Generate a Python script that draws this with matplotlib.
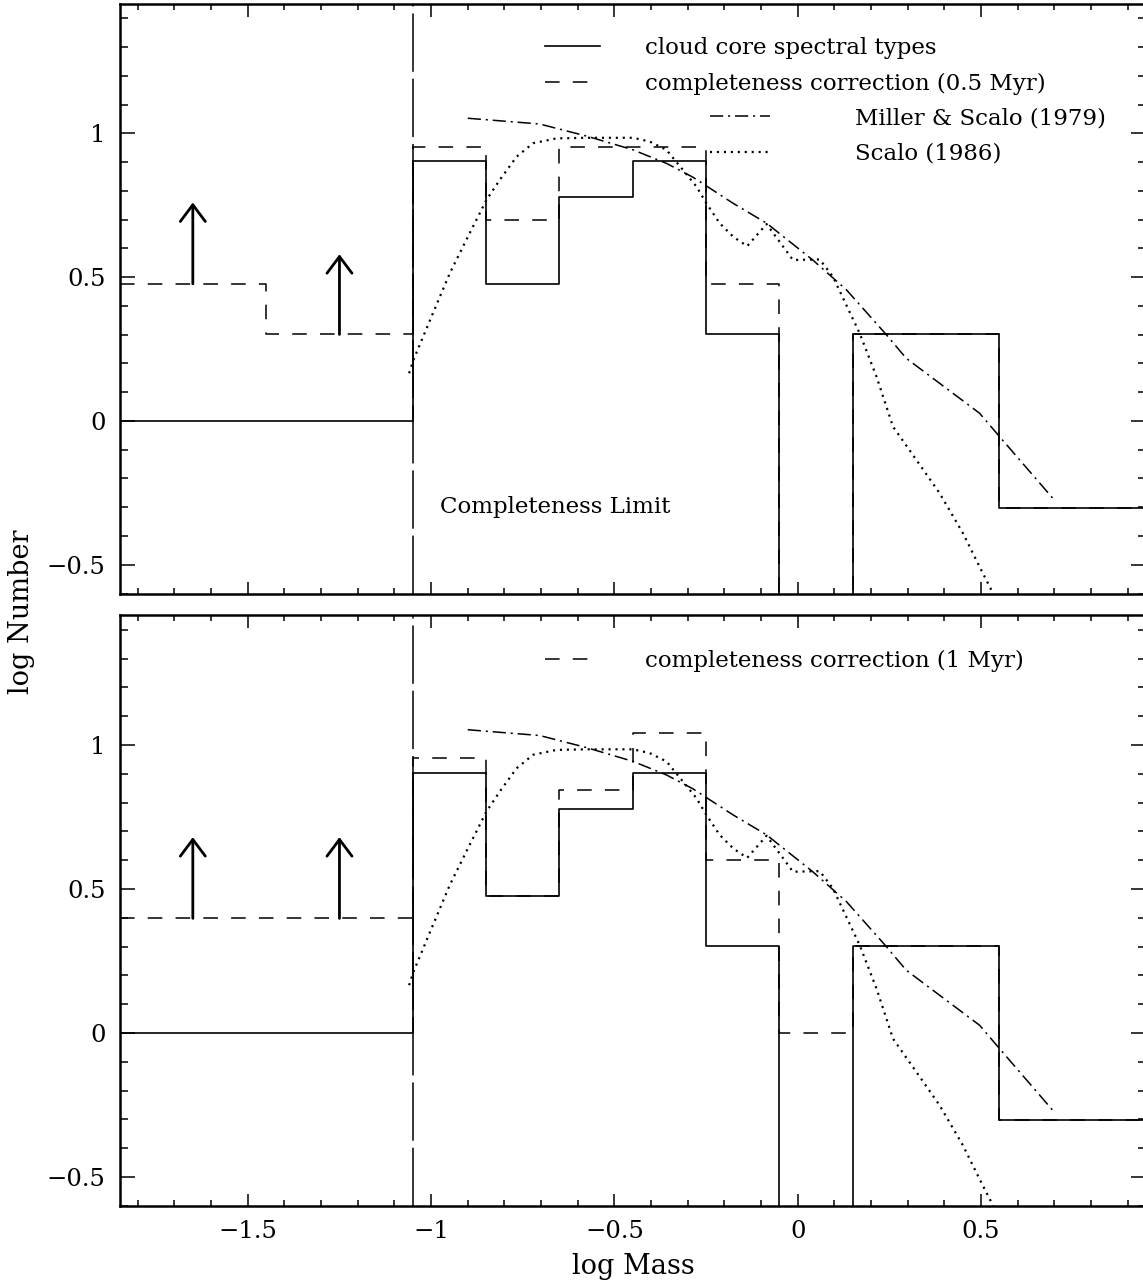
import numpy as np
import matplotlib
matplotlib.use('Agg')
import matplotlib.pyplot as plt
from matplotlib.ticker import MultipleLocator, FuncFormatter
from matplotlib.lines import Line2D

plt.rcParams['font.family'] = ['DejaVu Serif']
plt.rcParams['lines.scale_dashes'] = False

# ---------------- data ----------------
bin_edges = [-1.85, -1.05, -0.85, -0.65, -0.45, -0.25, -0.05, 0.15, 0.55, 0.95]
cloud_core = [0.0, 0.903, 0.477, 0.778, 0.903, 0.301, -np.inf, 0.301, -0.301]

corr_edges_05 = [-1.85, -1.45, -1.05, -0.85, -0.65, -0.45, -0.25, -0.05, 0.15, 0.55, 0.95]
corr_05 = [0.477, 0.301, 0.954, 0.699, 0.954, 0.954, 0.477, -np.inf, 0.301, -0.301]

corr_edges_1 = [-1.85, -1.05, -0.85, -0.65, -0.45, -0.25, -0.05, 0.15, 0.55, 0.95]
corr_1 = [0.398, 0.954, 0.477, 0.845, 1.041, 0.602, 0.0, 0.301, -0.301]

ms_logm = [-0.90, -0.704, -0.576, -0.449, -0.358, -0.286, -0.176, -0.085, 0.041,
           0.133, 0.237, 0.296, 0.496, 0.551, 0.696]
ms_logn = [1.053, 1.033, 0.991, 0.943, 0.896, 0.848, 0.757, 0.688, 0.560,
           0.456, 0.307, 0.218, 0.027, -0.055, -0.269]

scalo_logm = [-1.06, -1.049, -0.995, -0.949, -0.904, -0.849, -0.813, -0.767, -0.722,
              -0.658, -0.576, -0.449, -0.404, -0.358, -0.313, -0.276, -0.249, -0.213,
              -0.176, -0.138, -0.085, -0.013, 0.06, 0.096, 0.169, 0.215, 0.26, 0.324,
              0.387, 0.451, 0.496, 0.545]
scalo_logn = [0.166, 0.21, 0.375, 0.514, 0.63, 0.769, 0.838, 0.919, 0.966,
              0.983, 0.985, 0.985, 0.972, 0.943, 0.873, 0.815, 0.757, 0.688,
              0.641, 0.608, 0.685, 0.56, 0.562, 0.502, 0.305, 0.154, -0.02, -0.136,
              -0.251, -0.391, -0.507, -0.63]

arrow_x = [-1.65, -1.25]
arrow_base_05 = [0.477, 0.301]
arrow_tip_05 = [0.76, 0.58]
arrow_base_1 = [0.398, 0.398]
arrow_tip_1 = [0.68, 0.68]

completeness_limit = -1.05

# ---------------- styles ----------------
DASH = (0, (10.5, 9.5))
DASHDOT = (0, (9.5, 3.5, 1.5, 3.5))
DOT = (0, (1.5, 3.5))
LONGDASH = (0, (42, 5))
FLOOR = -5.0

W, H = 1143, 1284
fig = plt.figure(figsize=(W / 100, H / 100), dpi=100)

left_px, right_px = 119.5, 1146.0
axes_px = [(4.1, 593.5), (615.4, 1205.8)]  # (top, bottom) pixel rows


def tick_fmt(v, pos):
    if abs(v) < 1e-9:
        return '0'
    return f'{v:g}'.replace('-', '\u2212')


def stepline(ax, edges, vals, **kw):
    v = np.array(vals, dtype=float)
    v = np.where(np.isfinite(v), v, FLOOR)
    return ax.step(edges, np.append(v, v[-1]), where='post', **kw)


axes = []
for (top, bot) in axes_px:
    ax = fig.add_axes([left_px / W, 1 - bot / H, (right_px - left_px) / W, (bot - top) / H])
    ax.set_xlim(-1.85, 0.95)
    ax.set_ylim(-0.6, 1.45)
    ax.xaxis.set_major_locator(MultipleLocator(0.5))
    ax.xaxis.set_minor_locator(MultipleLocator(0.1))
    ax.yaxis.set_major_locator(MultipleLocator(0.5))
    ax.yaxis.set_minor_locator(MultipleLocator(0.1))
    ax.xaxis.set_major_formatter(FuncFormatter(tick_fmt))
    ax.yaxis.set_major_formatter(FuncFormatter(tick_fmt))
    ax.tick_params(which='both', direction='in', top=True, right=True, width=1.1,
                   labelsize=17.5, pad=10)
    ax.tick_params(axis='x', which='major', length=9)
    ax.tick_params(axis='x', which='minor', length=4)
    ax.tick_params(axis='y', which='major', length=11)
    ax.tick_params(axis='y', which='minor', length=6)
    for s in ax.spines.values():
        s.set_linewidth(1.8)
    axes.append(ax)

ax_top, ax_bot = axes
ax_top.tick_params(axis='x', labelbottom=False)

panels = [
    (ax_top, corr_edges_05, corr_05, arrow_base_05, arrow_tip_05),
    (ax_bot, corr_edges_1, corr_1, arrow_base_1, arrow_tip_1),
]

for ax, cedges, cvals, abase, atip in panels:
    ax.axvline(completeness_limit, color='black', lw=1.1, linestyle=LONGDASH)
    stepline(ax, cedges, cvals, color='black', lw=1.1, linestyle=DASH)
    stepline(ax, bin_edges, cloud_core, color='black', lw=1.2)
    ax.plot(ms_logm, ms_logn, color='black', lw=1.1, linestyle=DASHDOT)
    ax.plot(scalo_logm, scalo_logn, color='black', lw=1.6, linestyle=DOT)
    for x, b, t in zip(arrow_x, abase, atip):
        ax.annotate('', xy=(x, t), xytext=(x, b),
                    arrowprops=dict(arrowstyle='->,head_length=0.6,head_width=0.45',
                                    lw=2.0, color='black', mutation_scale=20,
                                    shrinkA=0, shrinkB=0))

h_solid = Line2D([], [], color='black', lw=1.2)
h_dash = Line2D([], [], color='black', lw=1.1, linestyle=DASH)
h_dd = Line2D([], [], color='black', lw=1.1, linestyle=DASHDOT)
h_dot = Line2D([], [], color='black', lw=1.6, linestyle=DOT)

LFS = 16.5
leg1 = ax_top.legend([h_solid, h_dash],
                     ['cloud core spectral types', 'completeness correction (0.5 Myr)'],
                     loc='upper left', bbox_to_anchor=(0.4145, 0.944), frameon=False,
                     fontsize=LFS, borderpad=0, borderaxespad=0, handlelength=2.4,
                     handletextpad=1.97, labelspacing=0.585)
ax_top.add_artist(leg1)
leg2 = ax_top.legend([h_dd, h_dot], ['Miller & Scalo (1979)', 'Scalo (1986)'],
                     loc='upper left', bbox_to_anchor=(0.575, 0.825), frameon=False,
                     fontsize=LFS, borderpad=0, borderaxespad=0, handlelength=2.62,
                     handletextpad=3.71, labelspacing=0.585)
ax_bot.legend([h_dash], ['completeness correction (1 Myr)'],
              loc='upper left', bbox_to_anchor=(0.4145, 0.941), frameon=False,
              fontsize=LFS, borderpad=0, borderaxespad=0, handlelength=2.4,
              handletextpad=1.97)

ax_top.text(0.312, 0.147, 'Completeness Limit', transform=ax_top.transAxes,
            ha='left', va='center', fontsize=16.5)

fig.text(22 / W, 1 - 612 / H, 'log Number', rotation=90, ha='center', va='center', fontsize=19.5)
fig.text(633 / W, 1 - 1266 / H, 'log Mass', ha='center', va='center', fontsize=19.5)

fig.savefig('out.png', dpi=100)
